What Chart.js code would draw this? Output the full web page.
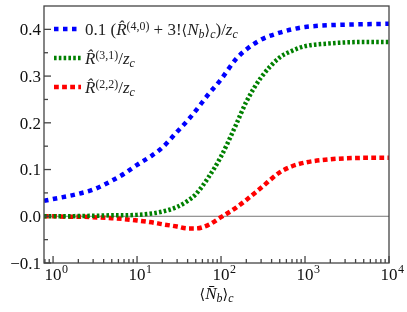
<!DOCTYPE html>
<html>
<head>
<meta charset="utf-8">
<script src="https://cdn.jsdelivr.net/npm/chart.js@4/dist/chart.umd.min.js"></script>
<style>
  body { margin: 0; background: #fff; font-family: "Liberation Serif", serif; }
  #wrap { position: relative; width: 407px; height: 312px; }
  #wrap canvas { position: absolute; left: 0; top: 0; }
  #wrap .lbl { position: absolute; white-space: nowrap; line-height: 1; color: #111;
         font-family: "Liberation Serif", serif !important; }
  .lbl i { font-family: "Liberation Serif", serif !important; font-style: italic; }
  .lbl sup, .lbl sub { font-size: 70%; line-height: 0; }
  .lbl sup { vertical-align: 0.42em; }
  .lbl sub { vertical-align: -0.25em; }
  .lbl .sym { font-family: "DejaVu Sans" !important; font-size: 85%; }
</style>
</head>
<body>
<div id="wrap">
<canvas id="myChart" width="407" height="312"></canvas>
</div>
<script>
// x values <N_b>_c and the three curves
const xs = [0.78, 1, 1.5, 2, 3, 5, 7, 10, 15, 20, 30, 40, 50, 70, 100, 150, 200, 300, 500, 700, 1000, 2000, 3000, 5000, 10000];
const blueVals = [0.033, 0.037, 0.043, 0.048, 0.057, 0.076, 0.091, 0.110, 0.130, 0.147, 0.181, 0.205, 0.226, 0.260, 0.293, 0.336, 0.357, 0.378, 0.393, 0.400, 0.405, 0.409, 0.410, 0.411, 0.412];
const greenVals = [0, 0, 0, 0.0005, 0.001, 0.002, 0.002, 0.003, 0.006, 0.010, 0.020, 0.033, 0.047, 0.082, 0.128, 0.195, 0.245, 0.297, 0.340, 0.354, 0.364, 0.370, 0.372, 0.373, 0.373];
const redVals = [0, 0, -0.001, -0.001, -0.002, -0.004, -0.006, -0.009, -0.013, -0.017, -0.022, -0.026, -0.026, -0.019, -0.002, 0.018, 0.035, 0.061, 0.094, 0.107, 0.115, 0.122, 0.124, 0.125, 0.125];

const yTicks = [-0.1, -0.05, 0, 0.05, 0.1, 0.15, 0.2, 0.25, 0.3, 0.35, 0.4];
const yLabels = ['\u22120.1', '', '0.0', '', '0.1', '', '0.2', '', '0.3', '', '0.4'];
const xMajor = [1, 10, 100, 1000, 10000];
const xExp = ['0', '1', '2', '3', '4'];

const seriesNames = [
    '0.1 (<i>R&#x302;</i><sup>(4,0)</sup> + 3!<span class="sym">&#x27e8;</span><i>N</i><sub><i>b</i></sub><span class="sym">&#x27e9;</span><sub><i>c</i></sub>)/<i>z</i><sub><i>c</i></sub>',
    '<i>R&#x302;</i><sup>(3,1)</sup>/<i>z</i><sub><i>c</i></sub>',
    '<i>R&#x302;</i><sup>(2,2)</sup>/<i>z</i><sub><i>c</i></sub>'
];
const xTitle = '<span class="sym">&#x27e8;</span><i>N&#x304;</i><sub><i>b</i></sub><span class="sym">&#x27e9;</span><sub><i>c</i></sub>';

const colors = ['rgb(0,0,255)', 'rgb(0,128,0)', 'rgb(255,0,0)'];
const dashes = [[4.5, 4.5], [2.6, 2.2], [4.8, 3.3]];

function pts(vals){
    return xs.map((x, i) => ({x: x, y: vals[i]}));
}

// html label placed by its baseline
function placeText(html, x, baseline, size, align){
    const el = document.createElement('div');
    el.className = 'lbl';
    el.style.fontSize = size + 'px';
    el.style.top = (baseline - 0.84 * size) + 'px';
    if (align === 'right'){
        el.style.right = (407 - x) + 'px';
    } else {
        el.style.left = x + 'px';
        if (align === 'center') el.style.transform = 'translateX(-50%)';
    }
    el.innerHTML = html;
    document.getElementById('wrap').appendChild(el);
    return el;
}

const axesPlugin = {
    id: 'axesPlugin',
    beforeDatasetsDraw(chart){
        const ctx = chart.ctx, a = chart.chartArea, ys = chart.scales.y;
        const y0 = ys.getPixelForValue(0);
        ctx.save();
        ctx.strokeStyle = '#777';
        ctx.lineWidth = 1;
        ctx.beginPath();
        ctx.moveTo(a.left, y0);
        ctx.lineTo(a.right, y0);
        ctx.stroke();
        ctx.restore();
    },
    afterDraw(chart){
        const ctx = chart.ctx, a = chart.chartArea;
        const xsc = chart.scales.x, ysc = chart.scales.y;
        ctx.save();
        // frame
        ctx.strokeStyle = '#444';
        ctx.lineWidth = 1.3;
        ctx.strokeRect(a.left, a.top, a.right - a.left, a.bottom - a.top);

        // y ticks, inward
        yTicks.forEach((v, i) => {
            const py = ysc.getPixelForValue(v);
            const len = yLabels[i] ? 7 : 4;
            ctx.beginPath();
            ctx.moveTo(a.left, py);
            ctx.lineTo(a.left + len, py);
            ctx.stroke();
        });

        // x ticks, log scale, inward
        for (let d = -1; d <= 4; d++){
            for (let k = 1; k <= 9; k++){
                const v = k * Math.pow(10, d);
                if (v < xsc.min || v > xsc.max) continue;
                const px = xsc.getPixelForValue(v);
                const len = k === 1 ? 7 : 4;
                ctx.beginPath();
                ctx.moveTo(px, a.bottom);
                ctx.lineTo(px, a.bottom - len);
                ctx.stroke();
            }
        }

        // legend line samples
        colors.forEach((c, i) => {
            const ly = a.top + 23 + i * 29;
            ctx.strokeStyle = c;
            ctx.lineWidth = 4.5;
            ctx.setLineDash(dashes[i]);
            ctx.beginPath();
            ctx.moveTo(a.left + 10, ly);
            ctx.lineTo(a.left + 37, ly);
            ctx.stroke();
        });
        ctx.restore();
    }
};

function mkSet(label, vals, i){
    return {
        label: label,
        data: pts(vals),
        borderColor: colors[i],
        backgroundColor: colors[i],
        borderWidth: 4.5,
        borderDash: dashes[i],
        borderCapStyle: 'butt',
        pointRadius: 0,
        cubicInterpolationMode: 'monotone',
        fill: false
    };
}

const config = {
    type: 'line',
    data: {
        datasets: [
            mkSet('blue', blueVals, 0),
            mkSet('green', greenVals, 1),
            mkSet('red', redVals, 2)
        ]
    },
    options: {
        responsive: false,
        animation: false,
        layout: {padding: {left: 44, right: 18, top: 6, bottom: 49}},
        plugins: {legend: {display: false}, tooltip: {enabled: false}},
        scales: {
            x: {type: 'logarithmic', min: 0.78, max: 10000, display: false},
            y: {type: 'linear', min: -0.1, max: 0.45, display: false}
        }
    },
    plugins: [axesPlugin]
};

let myChart = new Chart(document.getElementById('myChart'), config);

// text as html on top of the canvas, placed through the chart scales
function addLabels(chart){
    const a = chart.chartArea, xsc = chart.scales.x, ysc = chart.scales.y;
    yTicks.forEach((v, i) => {
        if (!yLabels[i]) return;
        placeText(yLabels[i], a.left - 3, ysc.getPixelForValue(v) + 6, 17, 'right');
    });
    xMajor.forEach((v, i) => {
        const px = xsc.getPixelForValue(v);
        placeText('10', px, a.bottom + 17, 17, 'center');
        placeText(xExp[i], px + 9, a.bottom + 10, 12, 'left');
    });
    placeText(xTitle, (a.left + a.right) / 2, a.bottom + 36, 17, 'center');
    seriesNames.forEach((s, i) => {
        placeText(s, a.left + 41, a.top + 29 + i * 29, 17, 'left').style.color = '#222';
    });
}
addLabels(myChart);
</script>
</body>
</html>
